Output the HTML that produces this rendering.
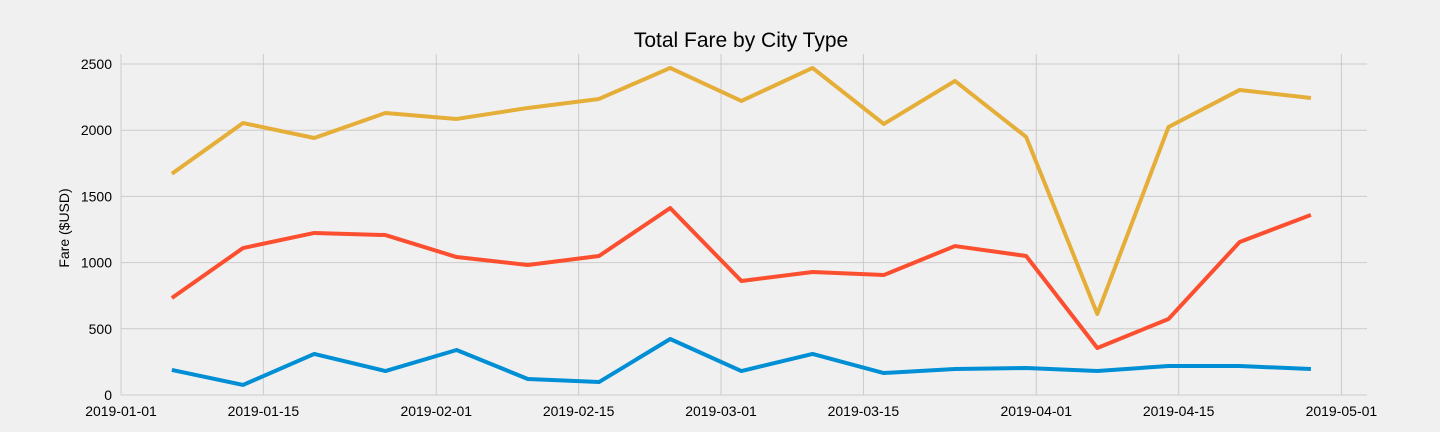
<!DOCTYPE html>
<html><head><meta charset="utf-8"><style>
body{margin:0;background:#f0f0f0;}
svg{display:block;font-family:"Liberation Sans","DejaVu Sans",sans-serif;}
</style></head><body>
<svg id="chart" width="1440" height="432">
<rect width="1440" height="432" fill="#f0f0f0"/>
<text x="741" y="47" text-anchor="middle" font-size="21" fill="#000">Total Fare by City Type</text>
<text transform="translate(69,228) rotate(-90)" text-anchor="middle" font-size="14" fill="#000">Fare ($USD)</text>
<g id="grid"></g><g id="lines"></g><g id="ticks"></g>
</svg>
<script>
const dates=["2019-01-06","2019-01-13","2019-01-20","2019-01-27","2019-02-03","2019-02-10","2019-02-17","2019-02-24","2019-03-03","2019-03-10","2019-03-17","2019-03-24","2019-03-31","2019-04-07","2019-04-14","2019-04-21","2019-04-28"];
const urban=[1671,2054,1941,2130,2085,2168,2236,2470,2221,2470,2047,2372,1949,612,2024,2304,2243];
const suburban=[733,1110,1224,1208,1042,982,1050,1412,861,929,906,1125,1050,355,574,1156,1360];
const rural=[189,76,310,181,340,121,98,423,181,310,166,196,204,181,219,219,196];
const xTicks=["2019-01-01","2019-01-15","2019-02-01","2019-02-15","2019-03-01","2019-03-15","2019-04-01","2019-04-15","2019-05-01"];
const yTicks=[0,500,1000,1500,2000,2500];
const NS="http://www.w3.org/2000/svg";
const t0=Date.parse("2019-01-01");
function xs(d){return 121+(Date.parse(d)-t0)/86400000*10.17;}
function ys(v){return 395-v*0.1324;}
const grid=document.getElementById('grid'),ticks=document.getElementById('ticks'),lines=document.getElementById('lines');
function mk(tag,attrs,parent){const e=document.createElementNS(NS,tag);for(const k in attrs)e.setAttribute(k,attrs[k]);parent.appendChild(e);return e;}
yTicks.forEach(v=>{
 const l=mk('line',{x1:121,x2:1367,y1:ys(v),y2:ys(v),stroke:'#cbcbcb','stroke-width':1},grid);
 
 
 const t=mk('text',{x:112,y:ys(v)+5,'text-anchor':'end','font-size':14,fill:'#000'},ticks);
 t.textContent=v;
 
 
});
xTicks.forEach(d=>{
 const l=mk('line',{x1:xs(d),x2:xs(d),y1:54,y2:395,stroke:'#cbcbcb','stroke-width':1},grid);
 
 
 const t=mk('text',{x:xs(d),y:416,'text-anchor':'middle','font-size':14,fill:'#000'},ticks);
 t.textContent=d;
 
 
});
[[urban,'#e5ae38','urban-line'],[suburban,'#fc4f30','suburban-line'],[rural,'#008fd5','rural-line']].forEach(([s,c,n])=>{
 const p=mk('polyline',{points:s.map((v,i)=>xs(dates[i])+','+ys(v)).join(' '),fill:'none',stroke:c,'stroke-width':4,'stroke-linejoin':'round','stroke-linecap':'butt'},lines);
 
 
});
</script>
</body></html>
